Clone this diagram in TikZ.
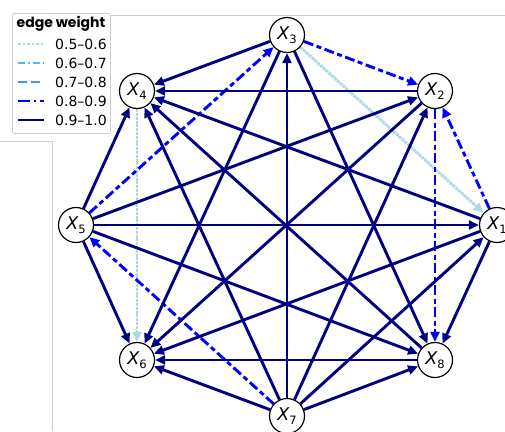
\documentclass[tikz,border=0pt]{standalone}
\usepackage{fontspec}
\setmainfont{DejaVu Sans}
\newfontfamily\titlefont{Poppins}
\usetikzlibrary{arrows.meta,backgrounds}
\definecolor{navyc}{RGB}{0,0,128}
\definecolor{bluec}{RGB}{0,0,255}
\definecolor{lblue}{RGB}{173,216,230}
\definecolor{dsky}{RGB}{70,190,240}
\definecolor{dodger}{RGB}{60,150,255}
\definecolor{axgray}{RGB}{205,205,205}
\newcommand{\xlab}[1]{{\itshape X}\raisebox{-4pt}{\fontsize{11.5}{11.5}\selectfont #1}}
\begin{document}
\begin{tikzpicture}[x=1pt,y=-1pt,
  vnode/.style={circle,draw=black,line width=1.2pt,fill=white,minimum size=35pt,inner sep=0pt,font=\fontsize{17.5}{17.5}\selectfont},
  tipa/.style={-{Triangle[length=10pt,width=9pt]}},
  wnavy/.style={draw=navyc,line width=2.9pt,tipa},
  wblue/.style={draw=bluec,line width=2.9pt,dash pattern=on 10pt off 3.5pt on 5pt off 3.5pt,tipa},
  wlight/.style={draw=lblue,line width=2.9pt,dash pattern=on 3pt off 0.8pt,tipa},
  legtxt/.style={anchor=west,inner sep=0pt,font=\fontsize{14}{14}\selectfont}]
\useasboundingbox (0,0) rectangle (505,431);
% nodes
\node[vnode] (x1) at (497,225) {\xlab{1}};
\node[vnode] (x2) at (435,91) {\xlab{2}};
\node[vnode] (x3) at (287,35) {\xlab{3}};
\node[vnode] (x4) at (137,91) {\xlab{4}};
\node[vnode] (x5) at (76,225) {\xlab{5}};
\node[vnode] (x6) at (137,360) {\xlab{6}};
\node[vnode] (x7) at (287,416) {\xlab{7}};
\node[vnode] (x8) at (435,360) {\xlab{8}};
\begin{scope}[on background layer]
  \draw[axgray,line width=0.8pt] (47,15) -- (505,15);
  \draw[axgray,line width=0.8pt] (0,141) -- (52,141) -- (52,431);
  % weaker edges
  \draw[wlight] (x3) -- (x1);
  \draw[wlight] (x4) -- (x6);
  \draw[wblue] (x3) -- (x2);
  \draw[wblue] (x1) -- (x2);
  \draw[wblue] (x2) -- (x8);
  \draw[wblue] (x5) -- (x3);
  \draw[wblue] (x7) -- (x5);
  % strong edges
  \foreach \t in {x1,x2,x3,x4,x6,x8} \draw[wnavy] (x7) -- (\t);
  \foreach \t in {x1,x2,x4,x6,x8} \draw[wnavy] (x5) -- (\t);
  \foreach \t in {x4,x6,x8} \draw[wnavy] (x3) -- (\t);
  \foreach \t in {x4,x6,x8} \draw[wnavy] (x1) -- (\t);
  \foreach \t in {x4,x6} \draw[wnavy] (x2) -- (\t);
  \foreach \t in {x4,x6} \draw[wnavy] (x8) -- (\t);
\end{scope}
% legend
\node[draw=axgray,line width=0.8pt,fill=white,fill opacity=0.9,rounded corners=2pt,minimum width=98pt,minimum height=120pt,anchor=north west] (legend) at (12,13) {};
\node[font=\titlefont\bfseries\fontsize{14}{14}\selectfont] (ltitle) at (61,24) {edge weight};
\draw[lblue,line width=2.6pt,dash pattern=on 2.5pt off 2pt] (18,44) -- (44,44);
\draw[dsky,line width=2.6pt,dash pattern=on 7pt off 3pt on 2pt off 3pt] (18,63) -- (44,63);
\draw[dodger,line width=2.6pt,dash pattern=on 9pt off 4pt] (18,82) -- (44,82);
\draw[bluec,line width=2.6pt,dash pattern=on 12pt off 4pt on 2pt off 4pt] (18,101) -- (44,101);
\draw[navyc,line width=2.6pt] (18,120) -- (44,120);
\node[legtxt] (l1) at (55,44) {0.5–0.6};
\node[legtxt] (l2) at (55,63) {0.6–0.7};
\node[legtxt] (l3) at (55,82) {0.7–0.8};
\node[legtxt] (l4) at (55,101) {0.8–0.9};
\node[legtxt] (l5) at (55,120) {0.9–1.0};
\end{tikzpicture}
\end{document}
